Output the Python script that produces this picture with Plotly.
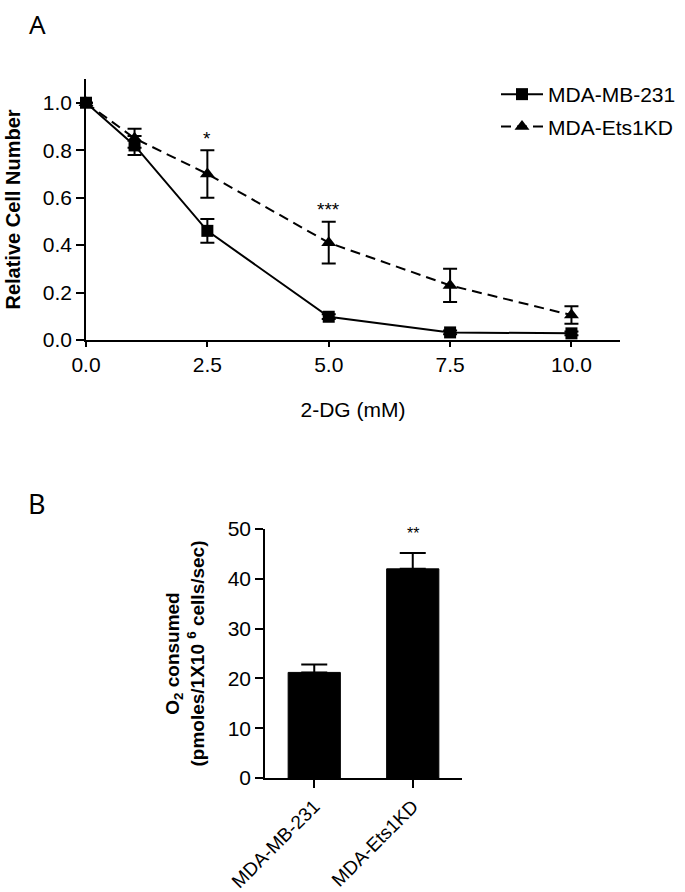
import plotly.graph_objects as go

# Panel A data
dose = [0, 1, 2.5, 5, 7.5, 10]
mb231 = [1.0, 0.82, 0.46, 0.098, 0.032, 0.028]
mb231_err = [0.0, 0.04, 0.05, 0.01, 0.008, 0.008]
ets = [1.0, 0.85, 0.70, 0.41, 0.23, 0.105]
ets_err = [0.0, 0.04, 0.10, 0.088, 0.07, 0.037]
x_ticks_a = [0, 2.5, 5, 7.5, 10]
y_ticks_a = [0, 0.2, 0.4, 0.6, 0.8, 1.0]

# Panel B data
cell_lines = ["MDA-MB-231", "MDA-Ets1KD"]
o2 = [21.2, 42.0]
o2_err = [1.6, 3.2]
y_ticks_b = [0, 10, 20, 30, 40, 50]

FONT = "Liberation Sans, Arial, sans-serif"
W, H = 685, 892

fig = go.Figure()

fig.add_trace(go.Scatter(
    x=dose, y=ets, name="MDA-Ets1KD", mode="lines+markers", legendgroup="g2",
    legendrank=2,
    line=dict(color="black", width=2, dash="10px,6px"),
    marker=dict(symbol="triangle-up", size=13, color="black"),
    error_y=dict(type="data", array=ets_err, color="black", thickness=2, width=7),
    cliponaxis=False, xaxis="x", yaxis="y"))
fig.add_trace(go.Scatter(
    x=dose, y=mb231, name="MDA-MB-231", mode="lines+markers", legendgroup="g1",
    legendrank=1,
    line=dict(color="black", width=2),
    marker=dict(symbol="square", size=12, color="black"),
    error_y=dict(type="data", array=mb231_err, color="black", thickness=2, width=7),
    cliponaxis=False, xaxis="x", yaxis="y"))

fig.add_trace(go.Bar(
    x=cell_lines, y=o2, width=0.53, showlegend=False,
    marker=dict(color="black", line=dict(color="black", width=1)),
    error_y=dict(type="data", symmetric=False, array=o2_err, arrayminus=[0, 0],
                 color="black", thickness=2, width=13),
    cliponaxis=False, xaxis="x2", yaxis="y2"))

axis_common = dict(showline=True, linecolor="black", linewidth=1.5, showgrid=False,
                   zeroline=False, ticks="outside", tickcolor="black", tickwidth=1.5,
                   mirror=False, automargin=False)

fig.update_layout(
    width=W, height=H, margin=dict(l=0, r=0, t=0, b=0, pad=0, autoexpand=False),
    paper_bgcolor="white", plot_bgcolor="white",
    font=dict(family=FONT, color="black"),
    xaxis=dict(domain=[86 / W, 620 / W], range=[0, 11], tickvals=x_ticks_a,
               tickformat=".1f", ticklen=5, anchor="y",
               tickfont=dict(family=FONT, size=21, color="black"),
               title=dict(text="2-DG (mM)", standoff=27,
                          font=dict(family=FONT, size=21, color="black")),
               **axis_common),
    yaxis=dict(domain=[1 - 340 / H, 1 - 79 / H], range=[0, 1.1], tickvals=y_ticks_a,
               tickformat=".1f", ticklen=8, anchor="x",
               tickfont=dict(family=FONT, size=21, color="black"),
               title=dict(text="<b>Relative Cell Number</b>", standoff=17,
                          font=dict(family=FONT, size=20, color="black")),
               **axis_common),
    xaxis2=dict(domain=[265 / W, 462 / W], range=[-0.5, 1.5], tickangle=-45,
                ticklen=8, anchor="y2",
                tickfont=dict(family=FONT, size=19, color="black"),
                **axis_common),
    yaxis2=dict(domain=[1 - 778 / H, 1 - 529 / H], range=[0, 50], tickvals=y_ticks_b,
                ticklen=8, anchor="x2",
                tickfont=dict(family=FONT, size=21, color="black"),
                title=dict(text="<b>O<sub>2</sub> consumed<br>(pmoles/1X10 <sup>6</sup> cells/sec)</b>",
                           standoff=18, font=dict(family=FONT, size=19, color="black")),
                **axis_common),
    legend=dict(x=496 / W, y=1 - 74 / H, xanchor="left", yanchor="top",
                traceorder="grouped", tracegroupgap=2, itemwidth=42,
                bgcolor="rgba(0,0,0,0)",
                font=dict(family=FONT, size=21, color="black")),
    annotations=[
        dict(text="A", x=37 / W, y=1 - 24 / H, xref="paper", yref="paper",
             xanchor="center", yanchor="middle", showarrow=False,
             font=dict(family="Noto Sans, sans-serif", size=26, color="black")),
        dict(text="B", x=37 / W, y=1 - 503 / H, xref="paper", yref="paper",
             xanchor="center", yanchor="middle", showarrow=False,
             font=dict(family="Noto Sans, sans-serif", size=27, color="black")),
        dict(text="*", x=2.5, y=0.851, xref="x", yref="y", showarrow=False,
             font=dict(family=FONT, size=19, color="black")),
        dict(text="***", x=5, y=0.548, xref="x", yref="y", showarrow=False,
             font=dict(family=FONT, size=19, color="black")),
        dict(text="**", x=1, y=49, xref="x2", yref="y2", showarrow=False,
             font=dict(family=FONT, size=16, color="black")),
    ],
)

fig.write_html("out.html", config={"displayModeBar": False},
               post_script="document.body.style.margin='0px';")
